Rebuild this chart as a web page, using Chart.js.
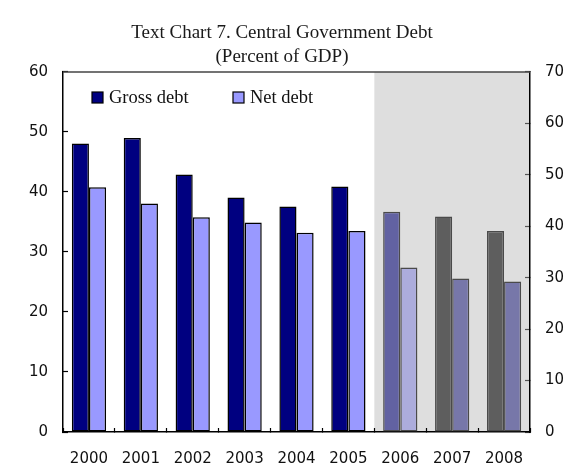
<!DOCTYPE html>
<html>
<head>
<meta charset="utf-8">
<script src="https://cdn.jsdelivr.net/npm/chart.js@4.4.1/dist/chart.umd.min.js"></script>
<style>
  body { margin: 0; background: #fff; }
  #wrap { width: 564px; height: 467px; }
</style>
</head>
<body>
<div id="wrap"><canvas id="debtChart" width="564" height="467"></canvas></div>
<script>
// Central government debt, percent of GDP
const years = ['2000', '2001', '2002', '2003', '2004', '2005', '2006', '2007', '2008'];
const grossDebt = [48.1, 49.0, 42.9, 39.1, 37.6, 40.9, 36.7, 35.9, 33.5];
const netDebt = [40.8, 38.1, 35.8, 34.9, 33.2, 33.5, 27.4, 25.6, 25.1];
const leftTicks = [0, 10, 20, 30, 40, 50, 60];
const rightTicks = [0, 10, 20, 30, 40, 50, 60, 70];
const projectionStart = '2006';

const firstProj = years.indexOf(projectionStart);

// colours: actuals, then the shaded projection years
const grossColors = years.map((y, i) => i < firstProj ? '#000080' : (i === firstProj ? '#6262a2' : '#5e5e5e'));
const netColors = years.map((y, i) => i < firstProj ? '#9999ff' : (i === firstProj ? '#acacdc' : '#7777a9'));
const grossBorders = years.map((y, i) => i < firstProj ? '#000000' : '#4a4a4a');
const netBorders = years.map((y, i) => i < firstProj ? '#000000' : '#4a4a4a');

const serif = "'Liberation Serif', 'Times New Roman', serif";
const sans = "'DejaVu Sans', Verdana, sans-serif";

const shadePlugin = {
  id: 'shade',
  beforeDraw(chart) {
    const { ctx, chartArea } = chart;
    const x = chart.scales.x;
    ctx.save();
    ctx.fillStyle = '#ffffff';
    ctx.fillRect(0, 0, chart.width, chart.height);
    const left = (x.getPixelForValue(firstProj - 1) + x.getPixelForValue(firstProj)) / 2;
    ctx.fillStyle = '#dedede';
    ctx.fillRect(left, chartArea.top, chartArea.right - left, chartArea.bottom - chartArea.top);
    ctx.restore();
  },
  afterDraw(chart) {
    const { ctx, chartArea } = chart;
    ctx.save();
    // top edge of the frame
    ctx.strokeStyle = '#444';
    ctx.lineWidth = 1.5;
    ctx.beginPath();
    ctx.moveTo(chartArea.left, chartArea.top);
    ctx.lineTo(chartArea.right, chartArea.top);
    ctx.stroke();

    // legend inside the plot
    const spots = [92, 233];
    ctx.font = '18.5px ' + serif;
    ctx.textBaseline = 'middle';
    chart.data.datasets.forEach((ds, i) => {
      const bx = spots[i], by = 92;
      ctx.fillStyle = ds.backgroundColor[0];
      ctx.fillRect(bx, by, 11, 11);
      ctx.strokeStyle = '#000';
      ctx.lineWidth = 1.2;
      ctx.strokeRect(bx, by, 11, 11);
      ctx.fillStyle = '#111';
      ctx.fillText(ds.label, bx + 17, by + 6);
    });
    ctx.restore();
  }
};

new Chart(document.getElementById('debtChart'), {
  type: 'bar',
  data: {
    labels: years,
    datasets: [{
      label: 'Gross debt',
      data: grossDebt,
      backgroundColor: grossColors,
      borderColor: grossBorders,
      borderWidth: 1.5,
      borderSkipped: false,
      yAxisID: 'y'
    }, {
      label: 'Net debt',
      data: netDebt,
      backgroundColor: netColors,
      borderColor: netBorders,
      borderWidth: 1.5,
      borderSkipped: false,
      yAxisID: 'y'
    }]
  },
  options: {
    responsive: false,
    animation: false,
    maintainAspectRatio: false,
    layout: { padding: 0 },
    categoryPercentage: 0.66,
    barPercentage: 1.0,
    plugins: {
      legend: { display: false },
      tooltip: { enabled: false },
      title: {
        display: true,
        text: ['Text Chart 7. Central Government Debt', '(Percent of GDP)'],
        color: '#1a1a1a',
        font: { family: serif, size: 19, weight: 'normal', lineHeight: 1.263 },
        padding: { top: 21, bottom: 3 }
      }
    },
    scales: {
      x: {
        grid: { offset: true, drawOnChartArea: false, tickLength: -4, color: '#000', tickWidth: 1.2 },
        border: { display: true, color: '#000', width: 1.5 },
        ticks: { color: '#111', font: { family: sans, size: 15 }, padding: 22, maxRotation: 0 },
        afterFit(s) { s.height = 35; }
      },
      y: {
        position: 'left',
        min: 0,
        max: 60,
        afterBuildTicks(s) { s.ticks = leftTicks.map(v => ({ value: v })); },
        grid: { drawOnChartArea: false, tickLength: -5, color: '#000', tickWidth: 1.2 },
        border: { display: true, color: '#000', width: 1.5 },
        ticks: { color: '#111', font: { family: sans, size: 15 }, padding: 20 },
        afterFit(s) { s.width = 63; }
      },
      y2: {
        position: 'right',
        display: true,
        min: 0,
        max: 70,
        afterBuildTicks(s) { s.ticks = rightTicks.map(v => ({ value: v })); },
        grid: { drawOnChartArea: false, tickLength: -5, color: '#555', tickWidth: 1.2 },
        border: { display: true, color: '#000', width: 1.5 },
        ticks: { color: '#111', font: { family: sans, size: 15 }, padding: 20 },
        afterFit(s) { s.width = 34; }
      }
    }
  },
  plugins: [shadePlugin]
});
</script>
</body>
</html>
